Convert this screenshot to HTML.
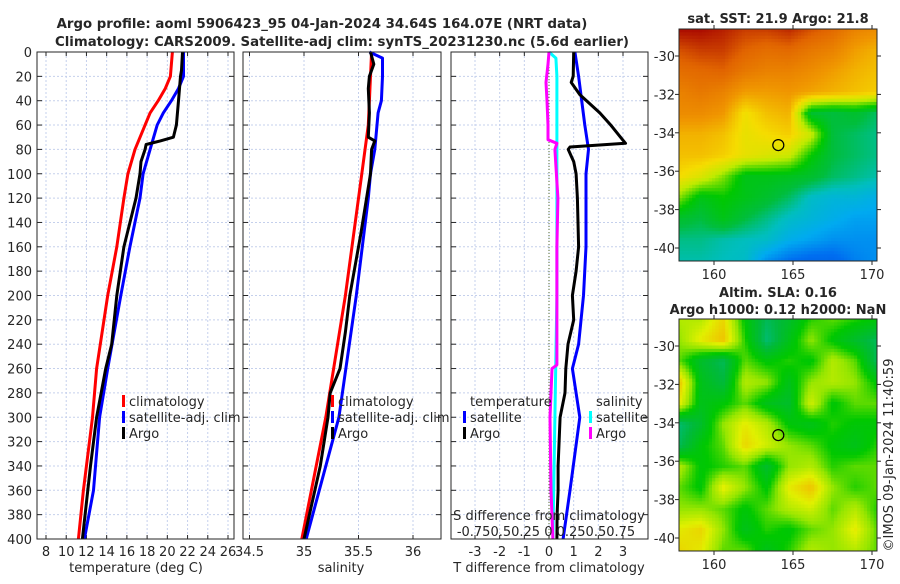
<!DOCTYPE html>
<html><head><meta charset="utf-8">
<style>
html,body{margin:0;padding:0;background:#fff;}
body{width:900px;height:580px;overflow:hidden;font-family:"DejaVu Sans","Liberation Sans",sans-serif;}
svg text{font-family:"DejaVu Sans","Liberation Sans",sans-serif;fill:#262626;}
</style></head>
<body>
<svg id="fig" width="900" height="580" viewBox="0 0 900 580" xmlns="http://www.w3.org/2000/svg">
<g id="titles">
<text x="322" y="28" font-size="13.3" font-weight="bold" text-anchor="middle">Argo profile: aoml 5906423_95 04-Jan-2024 34.64S 164.07E (NRT data)</text>
<text x="342" y="46" font-size="13.3" font-weight="bold" text-anchor="middle">Climatology: CARS2009. Satellite-adj clim: synTS_20231230.nc (5.6d earlier)</text>
<text x="778" y="23" font-size="13" font-weight="bold" text-anchor="middle">sat. SST: 21.9 Argo: 21.8</text>
<text x="778" y="297" font-size="13" font-weight="bold" text-anchor="middle">Altim. SLA: 0.16</text>
<text x="778" y="314" font-size="13" font-weight="bold" text-anchor="middle">Argo h1000: 0.12 h2000: NaN</text>
<text transform="translate(893,455) rotate(-90)" font-size="13" text-anchor="middle">©IMOS 09-Jan-2024 11:40:59</text>
</g>
<g id="plots"></g>
</svg>
<script>
// ---------- data ----------
const depthTicks = [0,20,40,60,80,100,120,140,160,180,200,220,240,260,280,300,320,340,360,380,400];
const tempTicks = [8,10,12,14,16,18,20,22,24,26];
const salTicks = [34.5,35,35.5,36];
const salTickLabels = ['34.5','35','35.5','36'];
const tdiffTicks = [-3,-2,-1,0,1,2,3];
const sdiffTickLabels = '-0.750.50.25 0 0.250.50.75';

const tClimDepth = [0,20,30,40,50,60,80,100,120,160,200,260,300,360,400];
const tClim      = [20.5,20.3,19.8,19.1,18.3,17.8,16.8,16.1,15.7,15.0,14.1,13.0,12.6,11.7,11.2];
const tSatDepth  = [0,20,30,40,50,60,80,100,120,160,200,260,300,360,400];
const tSat       = [21.6,21.6,21.1,20.4,19.6,19.0,18.3,17.6,17.3,16.3,15.4,14.1,13.3,12.7,11.8];
const tArgoDepth = [0,15,20,40,60,70,73,76,80,90,100,120,160,200,240,260,300,340,400];
const tArgo      = [21.5,21.4,21.3,21.1,20.9,20.6,19.3,17.9,17.8,17.4,17.3,16.9,15.7,15.0,14.5,13.9,13.0,12.4,11.6];

const sClimDepth = [0,20,60,100,200,300,400];
const sClim      = [35.62,35.61,35.59,35.53,35.38,35.2,34.98];
const sSatDepth  = [0,5,20,40,50,80,100,120,200,300,400];
const sSat       = [35.6,35.72,35.72,35.71,35.68,35.65,35.61,35.59,35.48,35.32,35.02];
const sArgoDepth = [0,10,20,30,50,70,73,80,100,150,200,230,260,280,300,340,400];
const sArgo      = [35.61,35.64,35.6,35.59,35.6,35.59,35.65,35.62,35.61,35.52,35.42,35.38,35.33,35.24,35.22,35.15,35.0];

const dSatTDepth = [0,20,60,80,100,160,200,240,260,300,360,400];
const dSatT      = [1.05,1.2,1.45,1.6,1.5,1.5,1.4,1.2,0.95,1.25,0.85,0.57];
const dArgoTDepth= [0,20,25,35,50,60,70,75,78,80,90,100,120,160,180,200,220,240,260,280,300,320,340,360,380,400];
const dArgoT     = [1.0,0.98,0.9,1.25,2.06,2.5,2.9,3.1,0.85,0.78,1.0,1.1,1.15,1.2,1.1,0.95,1.0,0.77,0.68,0.65,0.45,0.41,0.37,0.37,0.33,0.32];
const dSatSDepth = [0,5,20,60,100,200,300,400];
const dSatS      = [0,0.07,0.08,0.08,0.08,0.08,0.06,0.04];
const dArgoSDepth= [0,10,25,40,60,72,75,80,120,160,200,257,260,300,360,400];
const dArgoS     = [0,-0.01,-0.03,-0.02,-0.01,-0.01,0.08,0.06,0.09,0.08,0.08,0.08,0.03,0.01,0.02,0.04];

const lonTicks = [160,165,170];
const latTicks = [-30,-32,-34,-36,-38,-40];
const argoLon = 164.07, argoLat = -34.64;
const sstGrid = [
[0.95,0.95,0.93,0.9,0.9,0.92,0.88,0.85,0.8,0.78],
[0.88,0.9,0.9,0.86,0.84,0.85,0.82,0.8,0.75,0.72],
[0.84,0.85,0.86,0.82,0.8,0.8,0.78,0.75,0.72,0.7],
[0.8,0.82,0.8,0.75,0.75,0.76,0.74,0.72,0.7,0.68],
[0.78,0.78,0.76,0.65,0.7,0.72,0.42,0.4,0.42,0.38],
[0.72,0.72,0.7,0.64,0.66,0.68,0.6,0.4,0.38,0.36],
[0.7,0.7,0.68,0.64,0.62,0.6,0.48,0.4,0.38,0.36],
[0.66,0.62,0.55,0.45,0.45,0.44,0.42,0.38,0.36,0.34],
[0.55,0.45,0.48,0.45,0.42,0.38,0.32,0.3,0.3,0.28],
[0.42,0.4,0.45,0.4,0.36,0.32,0.3,0.28,0.26,0.26],
[0.36,0.36,0.34,0.33,0.32,0.28,0.26,0.24,0.24,0.24],
[0.34,0.34,0.33,0.32,0.24,0.2,0.18,0.18,0.22,0.24]];
const slaGrid = [
[0.6,0.6,0.75,0.4,0.2,0.3,0.45,0.5,0.45,0.4],
[0.55,0.7,0.8,0.45,0.15,0.35,0.55,0.4,0.3,0.2],
[0.5,0.3,0.2,0.5,0.4,0.45,0.4,0.6,0.5,0.2],
[0.8,0.35,0.25,0.6,0.55,0.35,0.55,0.6,0.55,0.4],
[0.7,0.35,0.4,0.5,0.35,0.3,0.65,0.4,0.5,0.5],
[0.15,0.3,0.55,0.7,0.6,0.4,0.35,0.45,0.4,0.4],
[0.2,0.4,0.5,0.75,0.65,0.55,0.5,0.4,0.35,0.45],
[0.6,0.4,0.45,0.5,0.3,0.55,0.6,0.45,0.5,0.5],
[0.5,0.4,0.7,0.55,0.4,0.7,0.8,0.55,0.45,0.5],
[0.55,0.55,0.5,0.4,0.5,0.6,0.65,0.5,0.6,0.45],
[0.7,0.75,0.55,0.35,0.45,0.4,0.5,0.55,0.7,0.5],
[0.75,0.7,0.5,0.5,0.35,0.45,0.6,0.55,0.6,0.5]];

// ---------- helpers ----------
const NS='http://www.w3.org/2000/svg';
const root=document.getElementById('plots');
function mk(tag,attrs,parent){const e=document.createElementNS(NS,tag);for(const k in attrs)e.setAttribute(k,attrs[k]);(parent||root).appendChild(e);return e;}
const Y0=52,Y1=539;
const yD=d=>Y0+(d-0)/400*(Y1-Y0);
function lin(d0,d1,r0,r1){return v=>r0+(v-d0)/(d1-d0)*(r1-r0);}

function panel(name,x0,x1,xs,xticks,xlabels,showY){
  const g=mk('g',{});
  
  
  xticks.forEach(t=>{const x=xs(t);mk('line',{x1:x,x2:x,y1:Y0,y2:Y1,stroke:'#c5d0ec','stroke-width':1,'stroke-dasharray':'2,2'},g);});
  depthTicks.forEach(d=>{const y=yD(d);mk('line',{x1:x0,x2:x1,y1:y,y2:y,stroke:'#c5d0ec','stroke-width':1,'stroke-dasharray':'2,2'},g);});
  xticks.forEach(t=>{const x=xs(t);mk('line',{x1:x,x2:x,y1:Y1,y2:Y1-4,stroke:'#262626'},g);mk('line',{x1:x,x2:x,y1:Y0,y2:Y0+4,stroke:'#262626'},g);});
  depthTicks.forEach(d=>{const y=yD(d);mk('line',{x1:x0,x2:x0+5,y1:y,y2:y,stroke:'#262626'},g);mk('line',{x1:x1,x2:x1-5,y1:y,y2:y,stroke:'#262626'},g);});
  if(xlabels) xticks.forEach((t,i)=>{const tx=mk('text',{x:xs(t),y:556,'font-size':13,'text-anchor':'middle'},g);tx.textContent=xlabels[i];
    });
  if(showY) depthTicks.forEach(d=>{const tx=mk('text',{x:x0-5,y:yD(d)+5,'font-size':13,'text-anchor':'end'},g);tx.textContent=d;
    });
  return g;
}
function frame(g,x0,x1){mk('rect',{x:x0,y:Y0,width:x1-x0,height:Y1-Y0,fill:'none',stroke:'#262626','stroke-width':1},g);}
function line(g,name,xs,vals,depths,color,w){
  const p=mk('polyline',{points:vals.map((v,i)=>xs(v).toFixed(1)+','+yD(depths[i]).toFixed(1)).join(' '),fill:'none',stroke:color,'stroke-width':w||3,'stroke-linejoin':'round'},g);
  
  
}
function txt(g,name,x,y,s,anchor,size){const t=mk('text',{x:x,y:y,'font-size':size||13,'text-anchor':anchor||'start'},g);t.textContent=s;
  return t;}
function legMark(g,x,y,c){const r=mk('rect',{x:x,y:y-11,width:3,height:12,fill:c},g);}

// Panel 1: temperature
const xT=lin(8,26,46,228);
const g1=panel('temperature-panel',37,234,xT,tempTicks,tempTicks.map(String),true);
line(g1,'temp-climatology-line',xT,tClim,tClimDepth,'#ff0000');
line(g1,'temp-satellite-line',xT,tSat,tSatDepth,'#0000ff');
line(g1,'temp-argo-line',xT,tArgo,tArgoDepth,'#000000');
frame(g1,37,234);
legMark(g1,122,406,'#ff0000');txt(g1,'legend-climatology',129,406,'climatology');
legMark(g1,122,422,'#0000ff');txt(g1,'legend-satellite-adj',129,422,'satellite-adj. clim');
legMark(g1,122,438,'#000000');txt(g1,'legend-argo',129,438,'Argo');
txt(g1,'x-axis-title-temperature',136,572,'temperature (deg C)','middle');

// Panel 2: salinity
const xS=lin(35,36,304,413);
const g2=panel('salinity-panel',243,441,xS,salTicks,salTickLabels,false);
line(g2,'sal-climatology-line',xS,sClim,sClimDepth,'#ff0000');
line(g2,'sal-satellite-line',xS,sSat,sSatDepth,'#0000ff');
line(g2,'sal-argo-line',xS,sArgo,sArgoDepth,'#000000');
frame(g2,243,441);
legMark(g2,331,406,'#ff0000');txt(g2,'legend-climatology',338,406,'climatology');
legMark(g2,331,422,'#0000ff');txt(g2,'legend-satellite-adj',338,422,'satellite-adj. clim');
legMark(g2,331,438,'#000000');txt(g2,'legend-argo',338,438,'Argo');
txt(g2,'x-axis-title-salinity',341,572,'salinity','middle');

// Panel 3: differences
const xD=lin(-3,3,475,623);
const xDS=v=>xD(v*4);
const g3=panel('difference-panel',451,648,xD,tdiffTicks,tdiffTicks.map(String),false);
mk('line',{x1:xD(0),x2:xD(0),y1:Y0,y2:Y1,stroke:'#556b2f','stroke-width':1,'stroke-dasharray':'1,2'},g3);
line(g3,'sdiff-satellite-line',xDS,dSatS,dSatSDepth,'#00ffff');
line(g3,'sdiff-argo-line',xDS,dArgoS,dArgoSDepth,'#ff00ff');
line(g3,'tdiff-satellite-line',xD,dSatT,dSatTDepth,'#0000ff');
line(g3,'tdiff-argo-line',xD,dArgoT,dArgoTDepth,'#000000');
frame(g3,451,648);
txt(g3,'legend-temperature-header',470,406,'temperature');
legMark(g3,463,422,'#0000ff');txt(g3,'legend-t-satellite',470,422,'satellite');
legMark(g3,463,438,'#000000');txt(g3,'legend-t-argo',470,438,'Argo');
txt(g3,'legend-salinity-header',596,406,'salinity');
legMark(g3,589,422,'#00ffff');txt(g3,'legend-s-satellite',596,422,'satellite');
legMark(g3,589,438,'#ff00ff');txt(g3,'legend-s-argo',596,438,'Argo');
txt(g3,'s-diff-axis-title',549,520,'S difference from climatology','middle');
txt(g3,'s-diff-tick-labels',546,536,sdiffTickLabels,'middle');
txt(g3,'x-axis-title-tdiff',549,572,'T difference from climatology','middle');

// ---------- maps ----------
function ramp(stops,v){v=Math.max(0,Math.min(1,v));for(let i=1;i<stops.length;i++){if(v<=stops[i][0]){const a=stops[i-1],b=stops[i],t=(v-a[0])/(b[0]-a[0]);
  return 'rgb('+a[1].map((c,k)=>Math.round(c+(b[1][k]-c)*t)).join(',')+')';}}const l=stops[stops.length-1][1];return 'rgb('+l.join(',')+')';}
const sstStops=[[0,[0,50,200]],[0.2,[0,110,240]],[0.27,[0,170,240]],[0.33,[0,190,190]],[0.4,[0,190,60]],[0.48,[0,200,0]],[0.58,[190,235,0]],[0.66,[245,220,0]],[0.76,[240,150,0]],[0.86,[225,100,0]],[0.95,[170,10,0]],[1,[150,0,0]]];
const slaStops=[[0,[0,190,190]],[0.25,[0,185,60]],[0.42,[0,200,0]],[0.55,[150,230,0]],[0.68,[225,240,0]],[0.85,[245,175,0]],[1,[245,140,0]]];
const sstC=v=>ramp(sstStops,v), slaC=v=>ramp(slaStops,v);
function bil(grid,u,w){const R=grid.length,C=grid[0].length;const x=u*(C-1),y=w*(R-1);const i=Math.min(C-2,Math.floor(x)),j=Math.min(R-2,Math.floor(y));
  const fx=x-i,fy=y-j;return grid[j][i]*(1-fx)*(1-fy)+grid[j][i+1]*fx*(1-fy)+grid[j+1][i]*(1-fx)*fy+grid[j+1][i+1]*fx*fy;}
function map(name,top,grid,cmap){
  const X0=679,X1=877,Y0m=top,Y1m=top+232;
  const g=mk('g',{});
  const nx=60,ny=70,cw=(X1-X0)/nx,ch=(Y1m-Y0m)/ny;
  for(let j=0;j<ny;j++)for(let i=0;i<nx;i++){
    mk('rect',{x:(X0+i*cw).toFixed(2),y:(Y0m+j*ch).toFixed(2),width:(cw+0.4).toFixed(2),height:(ch+0.4).toFixed(2),fill:cmap(bil(grid,(i+0.5)/nx,(j+0.5)/ny))},g);}
  const xl=lin(160,170,714,872),yl=lin(-30,-40,top+27,top+219);
  mk('rect',{x:X0,y:Y0m,width:X1-X0,height:Y1m-Y0m,fill:'none',stroke:'#262626'},g);
  lonTicks.forEach(l=>{const x=xl(l);mk('line',{x1:x,x2:x,y1:Y1m,y2:Y1m+4,stroke:'#262626'},g);mk('line',{x1:x,x2:x,y1:Y0m,y2:Y0m-4,stroke:'#262626'},g);
    txt(g,'lon-tick-label',x,Y1m+18,String(l),'middle');});
  latTicks.forEach(l=>{const y=yl(l);mk('line',{x1:X0,x2:X0-4,y1:y,y2:y,stroke:'#262626'},g);mk('line',{x1:X1,x2:X1+4,y1:y,y2:y,stroke:'#262626'},g);
    txt(g,'lat-tick-label',X0-4,y+5,String(l),'end');});
  const c=mk('circle',{cx:xl(argoLon),cy:yl(argoLat),r:5.5,fill:'none',stroke:'#000','stroke-width':1.2},g);
  
}
map('sst-map',29,sstGrid,sstC);
map('sla-map',319,slaGrid,slaC);
</script>
</body></html>
